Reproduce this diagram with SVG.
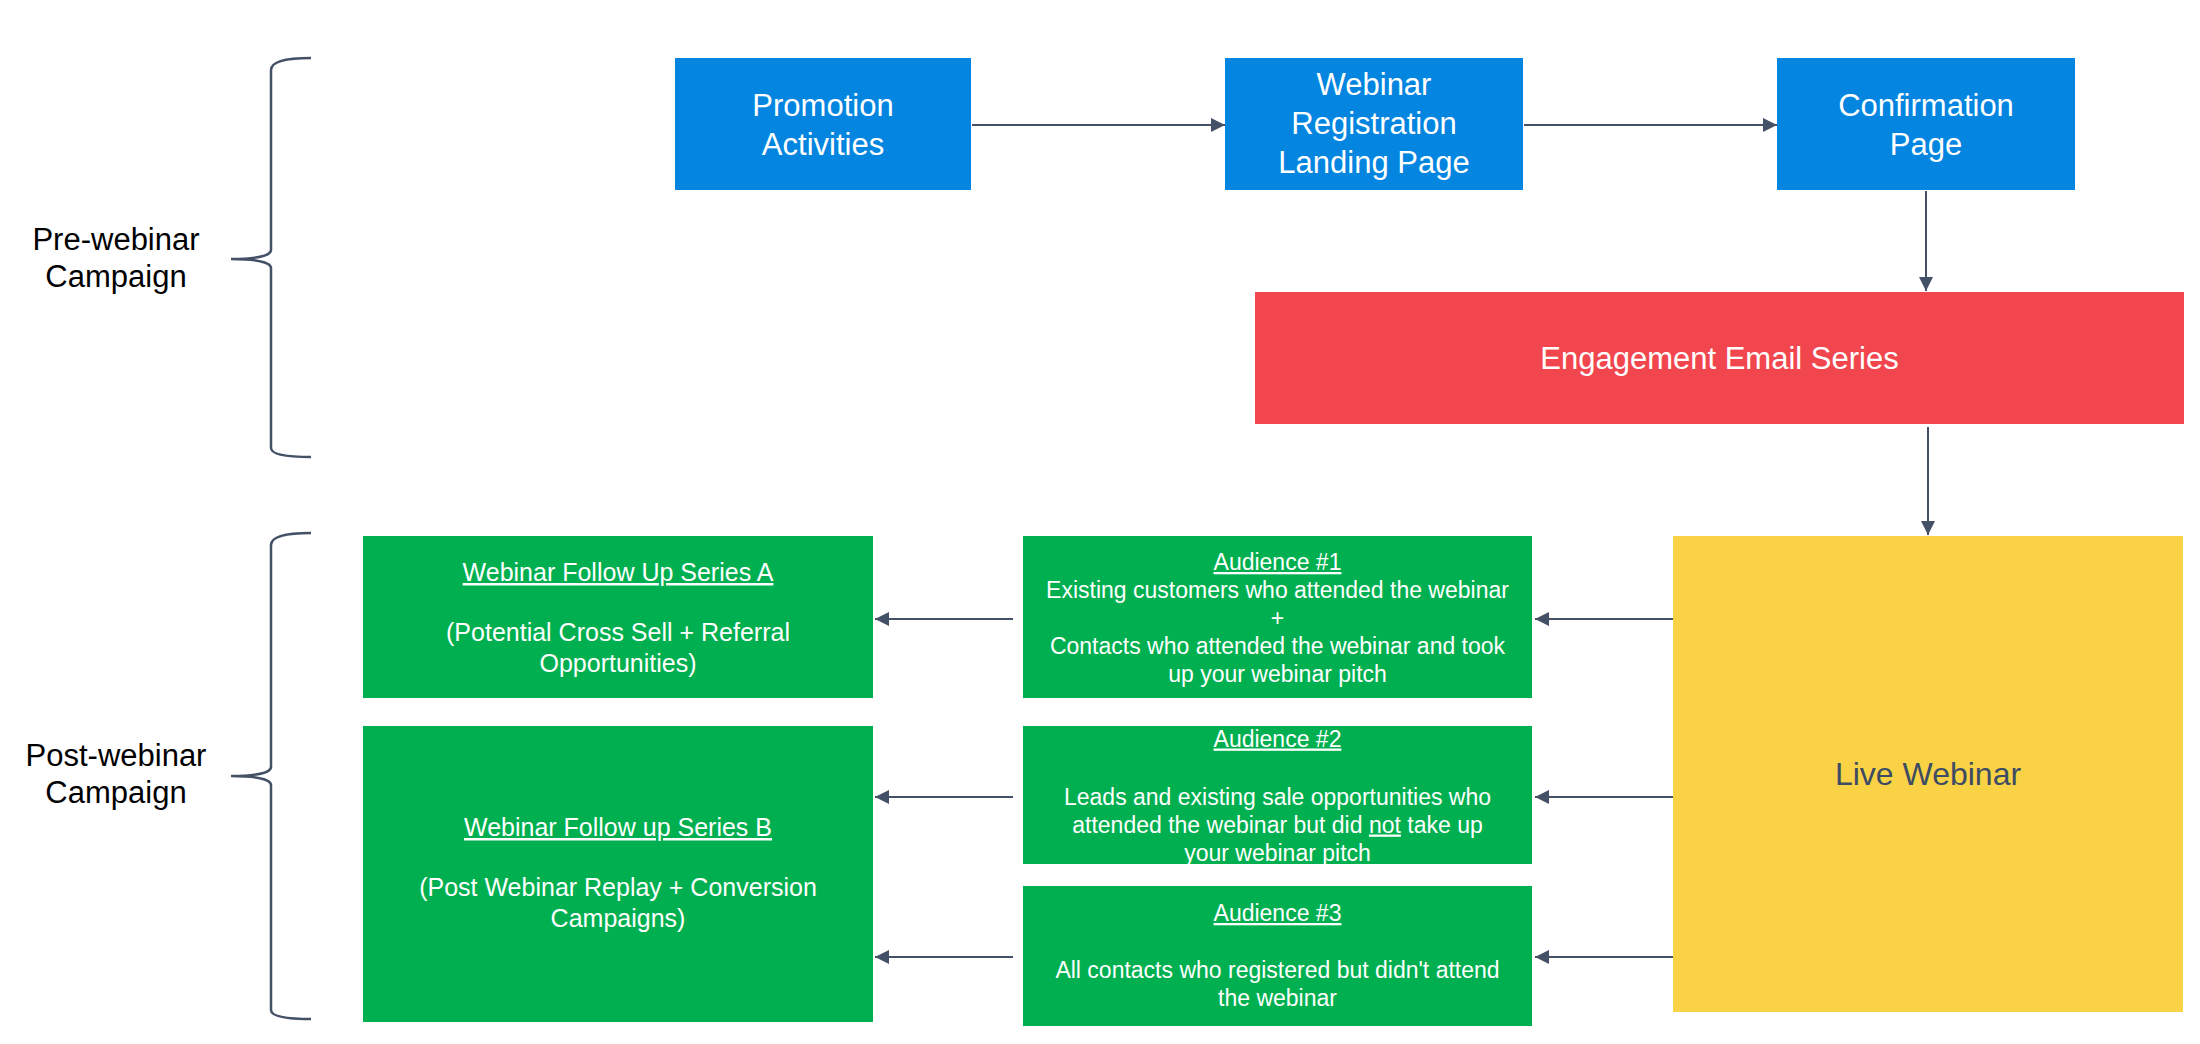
<svg xmlns="http://www.w3.org/2000/svg" width="2200" height="1044" viewBox="0 0 2200 1044">
<style>
text{font-family:"Liberation Sans",Arial,sans-serif;text-anchor:middle}
.blue{fill:#0385E0}
.red{fill:#F2464F}
.green{fill:#00B050}
.yellow{fill:#FAD246}
.big{font-size:31px;fill:#ffffff}
.aud{font-size:23px;fill:#ffffff}
.ser{font-size:25px;fill:#ffffff}
.side{font-size:31px;fill:#000000}
.live{font-size:32px;fill:#3E4C63}
.u{text-decoration:underline}
.edge{stroke:#435066;stroke-width:2;fill:none}
.brace{stroke:#435066;stroke-width:2.5;fill:none}
</style>
<defs>
<marker id="ah" markerUnits="userSpaceOnUse" markerWidth="14" markerHeight="14" refX="14" refY="7" orient="auto">
<path d="M0,0 L14,7 L0,14 Z" fill="#435066"/>
</marker>
</defs>

<g id="pre-label">
<path class="brace" d="M311,58 C288,58 271,61 271,70 L271,250 C271,256 255,259 231,259 C255,259 271,262 271,268 L271,448 C271,455 288,457 311,457"/>
<text class="side" x="116" y="250">Pre-webinar</text>
<text class="side" x="116" y="286.5">Campaign</text>
</g>

<g id="post-label">
<path class="brace" d="M311,533 C288,533 271,536 271,545 L271,767 C271,773 255,776 231,776 C255,776 271,779 271,785 L271,1010 C271,1017 288,1019 311,1019"/>
<text class="side" x="116" y="766">Post-webinar</text>
<text class="side" x="116" y="803">Campaign</text>
</g>

<g id="promotion">
<rect class="blue" x="675" y="58" width="296" height="132"/>
<text class="big" x="823" y="115.5">Promotion</text>
<text class="big" x="823" y="154.5">Activities</text>
</g>

<g id="registration">
<rect class="blue" x="1225" y="58" width="298" height="132"/>
<text class="big" x="1374" y="95">Webinar</text>
<text class="big" x="1374" y="134">Registration</text>
<text class="big" x="1374" y="173">Landing Page</text>
</g>

<g id="confirmation">
<rect class="blue" x="1777" y="58" width="298" height="132"/>
<text class="big" x="1926" y="115.5">Confirmation</text>
<text class="big" x="1926" y="154.5">Page</text>
</g>

<g id="engagement">
<rect class="red" x="1255" y="292" width="929" height="132"/>
<text class="big" x="1719.5" y="369">Engagement Email Series</text>
</g>

<g id="live-webinar">
<rect class="yellow" x="1673" y="536" width="510" height="476"/>
<text class="live" x="1928" y="784.5">Live Webinar</text>
</g>

<g id="audience-1">
<rect class="green" x="1023" y="536" width="509" height="162"/>
<text class="aud u" x="1277.5" y="570">Audience #1</text>
<text class="aud" x="1277.5" y="598">Existing customers who attended the webinar</text>
<text class="aud" x="1277.5" y="626">+</text>
<text class="aud" x="1277.5" y="654">Contacts who attended the webinar and took</text>
<text class="aud" x="1277.5" y="682">up your webinar pitch</text>
</g>

<g id="audience-2">
<rect class="green" x="1023" y="726" width="509" height="138"/>
<text class="aud u" x="1277.5" y="746.5">Audience #2</text>
<text class="aud" x="1277.5" y="804.5">Leads and existing sale opportunities who</text>
<text class="aud" x="1277.5" y="832.5">attended the webinar but did <tspan class="u">not</tspan> take up</text>
<text class="aud" x="1277.5" y="860.5">your webinar pitch</text>
</g>

<g id="audience-3">
<rect class="green" x="1023" y="886" width="509" height="140"/>
<text class="aud u" x="1277.5" y="921">Audience #3</text>
<text class="aud" x="1277.5" y="978">All contacts who registered but didn't attend</text>
<text class="aud" x="1277.5" y="1005.5">the webinar</text>
</g>

<g id="series-a">
<rect class="green" x="363" y="536" width="510" height="162"/>
<text class="ser u" x="618" y="581">Webinar Follow Up Series A</text>
<text class="ser" x="618" y="641">(Potential Cross Sell + Referral</text>
<text class="ser" x="618" y="672">Opportunities)</text>
</g>

<g id="series-b">
<rect class="green" x="363" y="726" width="510" height="296"/>
<text class="ser u" x="618" y="836">Webinar Follow up Series B</text>
<text class="ser" x="618" y="896">(Post Webinar Replay + Conversion</text>
<text class="ser" x="618" y="927">Campaigns)</text>
</g>

<g id="connectors">
<path class="edge" marker-end="url(#ah)" d="M972,125 L1225,125"/>
<path class="edge" marker-end="url(#ah)" d="M1524,125 L1777,125"/>
<path class="edge" marker-end="url(#ah)" d="M1926,191 L1926,291"/>
<path class="edge" marker-end="url(#ah)" d="M1928,427 L1928,535"/>
<path class="edge" marker-end="url(#ah)" d="M1673,619 L1535,619"/>
<path class="edge" marker-end="url(#ah)" d="M1673,797 L1535,797"/>
<path class="edge" marker-end="url(#ah)" d="M1673,957 L1535,957"/>
<path class="edge" marker-end="url(#ah)" d="M1013,619 L875,619"/>
<path class="edge" marker-end="url(#ah)" d="M1013,797 L875,797"/>
<path class="edge" marker-end="url(#ah)" d="M1013,957 L875,957"/>
</g>
</svg>
